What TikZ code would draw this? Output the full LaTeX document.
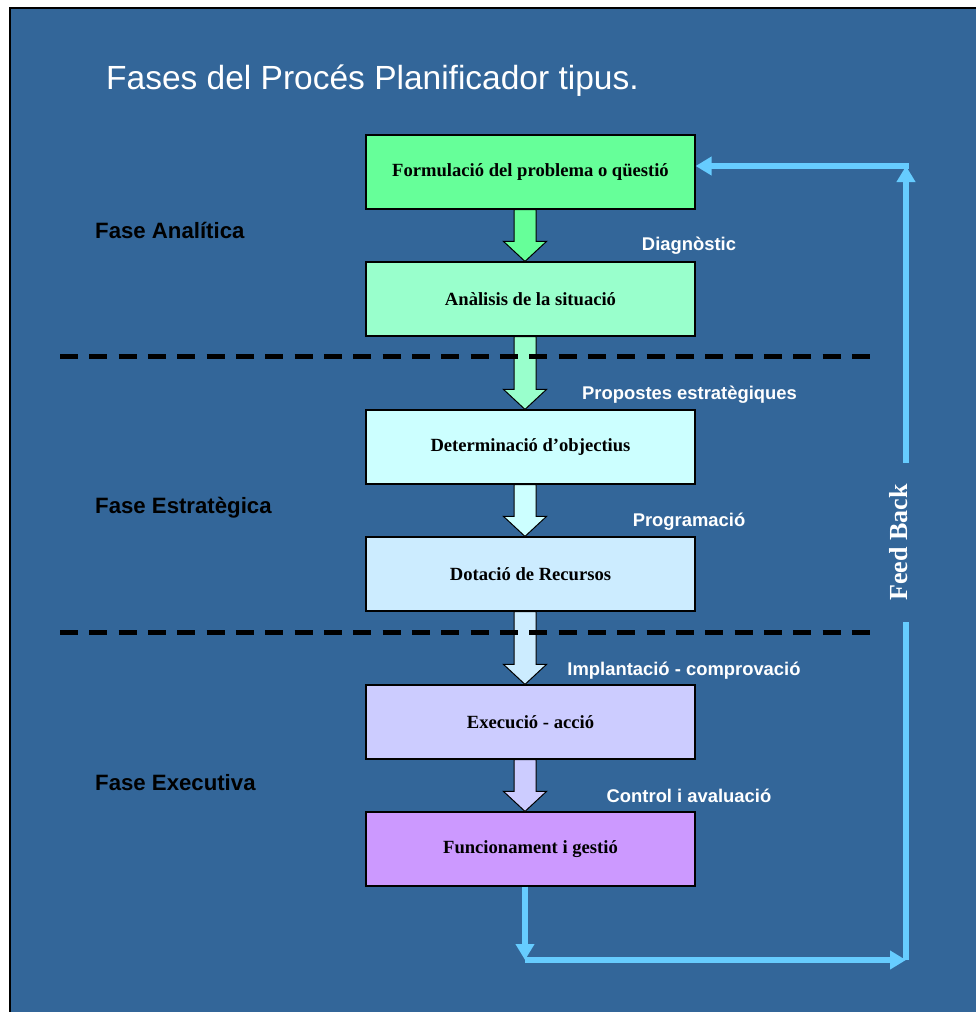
\documentclass[tikz,border=0pt]{standalone}
\usepackage{fontspec}
\setmainfont{Liberation Sans}
\newfontfamily\timesfont{Liberation Serif}
\usetikzlibrary{calc,arrows.meta}

\definecolor{fon}{HTML}{336699}
\definecolor{obr}{HTML}{66CCFF}
\definecolor{c1}{HTML}{66FF99}
\definecolor{c2}{HTML}{99FFCC}
\definecolor{c3}{HTML}{CCFFFF}
\definecolor{c4}{HTML}{CCECFF}
\definecolor{c5}{HTML}{CCCCFF}
\definecolor{c6}{HTML}{CC99FF}

% блочная стрелка между двумя узлами
\newcommand{\strelka}[3]{%
  \draw[blokstr, fill=#3] ($(#1.south)+(-16.5,0)$) -- ($(#2.north)+(-16.5,-20)$)
    -- ($(#2.north)+(-27,-20)$) -- ($(#2.north)+(-5.5,0)$) -- ($(#2.north)+(16,-20)$)
    -- ($(#2.north)+(5.5,-20)$) -- ($(#1.south)+(5.5,0)$) -- cycle;}

\begin{document}
\begin{tikzpicture}[
        x=1pt, y=-1pt, % координаты в пикселях, сверху вниз
        blok/.style={draw=black, line width=1.2pt, minimum width=329pt, minimum height=74pt,
            inner sep=0pt, font=\timesfont\bfseries\fontsize{18.6}{22}\selectfont}, % Стиль блоков
        faza/.style={anchor=base west, inner sep=0pt, font=\bfseries\fontsize{22.2}{25}\selectfont},
        metka/.style={anchor=base, inner sep=0pt, text=white, font=\bfseries\fontsize{18.4}{22}\selectfont},
        blokstr/.style={draw=black, line width=1pt},
        shtrih/.style={line width=5pt, dash pattern=on 18pt off 11.33pt},
        obrat/.style={draw=obr, line width=6pt}, % обратная связь
        strl/.style={-{Triangle[width=18pt,length=16pt]}},
    ]

    \useasboundingbox (0,0) rectangle (976,1012);
    \fill[white] (0,0) rectangle (976,1012);
    \draw[fill=fon, line width=2pt] (10,8) rectangle (990,1030);

    \node[anchor=base west, inner sep=0pt, text=white, font=\fontsize{33.5}{40}\selectfont]
        (zag) at (106,89) {Fases del Procés Planificador tipus.};

    \node[blok, fill=c1] (f1) at (530.5,172) {Formulació del problema o qüestió};
    \node[blok, fill=c2] (f2) at (530.5,299) {Anàlisis de la situació};
    \node[blok, fill=c3] (f3) at (530.5,447) {Determinació d’objectius};
    \node[blok, fill=c4] (f4) at (530.5,574) {Dotació de Recursos};
    \node[blok, fill=c5] (f5) at (530.5,722) {Execució - acció};
    \node[blok, fill=c6] (f6) at (530.5,849) {Funcionament i gestió};

    \strelka{f1}{f2}{c1}
    \strelka{f2}{f3}{c2}
    \strelka{f3}{f4}{c3}
    \strelka{f4}{f5}{c4}
    \strelka{f5}{f6}{c5}

    \draw[shtrih] (60,356) -- (871,356);
    \draw[shtrih] (60,632) -- (871,632);

    \node[faza] (fa) at (95,238) {Fase Analítica};
    \node[faza] (fe) at (95,513) {Fase Estratègica};
    \node[faza] (fx) at (95,790) {Fase Executiva};

    \node[metka] (m1) at (689,250) {Diagnòstic};
    \node[metka] (m2) at (689.5,399) {Propostes estratègiques};
    \node[metka] (m3) at (689,526) {Programació};
    \node[metka] (m4) at (684,675) {Implantació - comprovació};
    \node[metka] (m5) at (689,802) {Control i avaluació};

    \node[rotate=90, minimum width=159pt, inner sep=0pt, text=white,
        font=\timesfont\bfseries\fontsize{26}{30}\selectfont] (fb) at (899,542.5) {Feed Back};

    \coordinate (kn) at (525,960);
    \coordinate (kp) at (906,960);
    \coordinate (kv) at (906,166);
    \draw[obrat, strl] (kn |- f6.south) -- (kn);
    \draw[obrat, strl] (kn) -- (kp);
    \draw[obrat] (kp) -- (kp |- fb.west);
    \draw[obrat, strl] (kv |- fb.east) -- (kv);
    \draw[obrat, strl, line cap=rect] (kv) -- (kv -| f1.east);
\end{tikzpicture}
\end{document}
